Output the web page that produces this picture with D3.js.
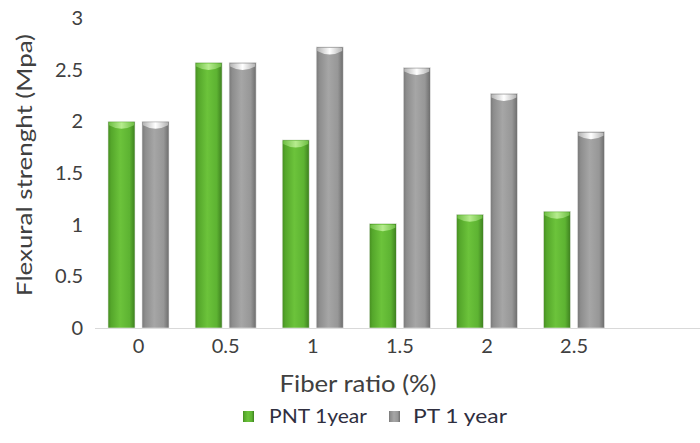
<!DOCTYPE html>
<html>
<head>
<meta charset="utf-8">
<script src="https://cdn.jsdelivr.net/npm/d3@7"></script>
<style>
  html, body { margin: 0; padding: 0; background: #fff; }
  svg { display: block; }
  text { font-family: Lato, "Open Sans", sans-serif; }
</style>
</head>
<body>
<svg id="chart" width="700" height="443"></svg>
<script>
// Fiber ratio categories and flexural strength (MPa) per series
const categories = ["0", "0.5", "1", "1.5", "2", "2.5"];
const seriesNames = ["PNT 1year", "PT 1 year"];
const pnt1year = [2.0, 2.57, 1.82, 1.01, 1.10, 1.13];
const pt1year  = [2.0, 2.57, 2.72, 2.52, 2.27, 1.90];
const yTicks = [0, 0.5, 1, 1.5, 2, 2.5, 3];

const svg = d3.select("#chart");
const defs = svg.append("defs");

// Cylinder-like horizontal gradients for the bars
function barGradient(id, stops) {
  const g = defs.append("linearGradient").attr("id", id)
    .attr("x1", "0%").attr("x2", "100%").attr("y1", "0%").attr("y2", "0%");
  stops.forEach(([o, c]) => g.append("stop").attr("offset", o).attr("stop-color", c));
}
barGradient("gGreen", [["0%", "#468d21"], ["12%", "#55a72b"], ["45%", "#6cc33b"], ["80%", "#5db332"], ["100%", "#3d7f1f"]]);
barGradient("gGray",  [["0%", "#787878"], ["12%", "#8d8d8d"], ["45%", "#a6a6a6"], ["80%", "#979797"], ["100%", "#6c6c6c"]]);
barGradient("gGreenCap", [["0%", "#6fbf45"], ["50%", "#b6ec8e"], ["100%", "#6fbf45"]]);
barGradient("gGrayCap",  [["0%", "#b4b4b4"], ["50%", "#ffffff"], ["100%", "#b4b4b4"]]);

const fills = { "PNT 1year": "url(#gGreen)", "PT 1 year": "url(#gGray)" };
const caps  = { "PNT 1year": "url(#gGreenCap)", "PT 1 year": "url(#gGrayCap)" };

const y = d3.scaleLinear().domain([0, 3]).range([328, 18]);
const x0 = d3.scaleBand().domain(categories).range([95, 617.6]);
const x1 = d3.scaleBand().domain(seriesNames).range([13, 74]).paddingInner(0.206);

// Y axis tick labels (no axis line)
const yAxis = svg.append("g").attr("transform", "translate(83,0)")
  .call(d3.axisLeft(y).tickValues(yTicks).tickFormat(d3.format("~g")).tickSize(0).tickPadding(0));
yAxis.select(".domain").remove();
yAxis.selectAll("text").attr("font-size", 20).attr("fill", "#404040");

// Baseline
svg.append("line").attr("x1", 95).attr("x2", 700).attr("y1", y(0) + 0.5).attr("y2", y(0) + 0.5)
  .attr("stroke", "#d9d9d9").attr("stroke-width", 1);

// X axis tick labels
const xAxis = svg.append("g").attr("transform", `translate(0,${y(0)})`)
  .call(d3.axisBottom(x0).tickSize(0).tickPadding(11));
xAxis.select(".domain").remove();
xAxis.selectAll("text").attr("font-size", 20).attr("fill", "#404040");

// Bars
const rows = categories.map((c, i) => ({ cat: c, vals: [
  { s: seriesNames[0], v: pnt1year[i] },
  { s: seriesNames[1], v: pt1year[i] }
]}));

const groups = svg.append("g").selectAll("g").data(rows).join("g")
  .attr("transform", d => `translate(${x0(d.cat)},0)`);

const bars = groups.selectAll("g").data(d => d.vals).join("g");
const bw = x1.bandwidth();

bars.append("rect")
  .attr("x", d => x1(d.s)).attr("y", d => y(d.v))
  .attr("width", bw).attr("height", d => y(0) - y(d.v))
  .attr("fill", d => fills[d.s])
  .attr("stroke", "#e8e8e8").attr("stroke-width", 0.6);

// Light cap at the top of each bar
bars.append("path")
  .attr("d", d => {
    const x = x1(d.s) + 1, t = y(d.v) + 1, w = bw - 2;
    return `M${x},${t} L${x + w},${t} L${x + w},${t + 3} Q${x + w / 2},${t + 10} ${x},${t + 3} Z`;
  })
  .attr("fill", d => caps[d.s]);

// Axis titles
svg.append("text")
  .attr("transform", "translate(32,165) rotate(-90)")
  .attr("text-anchor", "middle").attr("font-size", 22).attr("fill", "#404040")
  .attr("textLength", 262).attr("lengthAdjust", "spacingAndGlyphs")
  .text("Flexural strenght (Mpa)");

svg.append("text")
  .attr("x", 358).attr("y", 392)
  .attr("text-anchor", "middle").attr("font-size", 23).attr("fill", "#404040")
  .attr("textLength", 157).attr("lengthAdjust", "spacingAndGlyphs")
  .text("Fiber ratio (%)");

// Legend
const legendPos = [243, 389];
const legendLen = [98, 94];
const legend = svg.append("g").selectAll("g").data(seriesNames).join("g")
  .attr("transform", (d, i) => `translate(${legendPos[i]},411)`);
legend.append("rect").attr("x", 0).attr("y", 0).attr("width", 11).attr("height", 11)
  .attr("fill", d => fills[d]);
legend.append("text").attr("x", (d, i) => i === 0 ? 26 : 24).attr("y", 12)
  .attr("font-size", 20).attr("fill", "#2f2f3f")
  .attr("textLength", (d, i) => legendLen[i]).attr("lengthAdjust", "spacingAndGlyphs")
  .text(d => d);
</script>
</body>
</html>
